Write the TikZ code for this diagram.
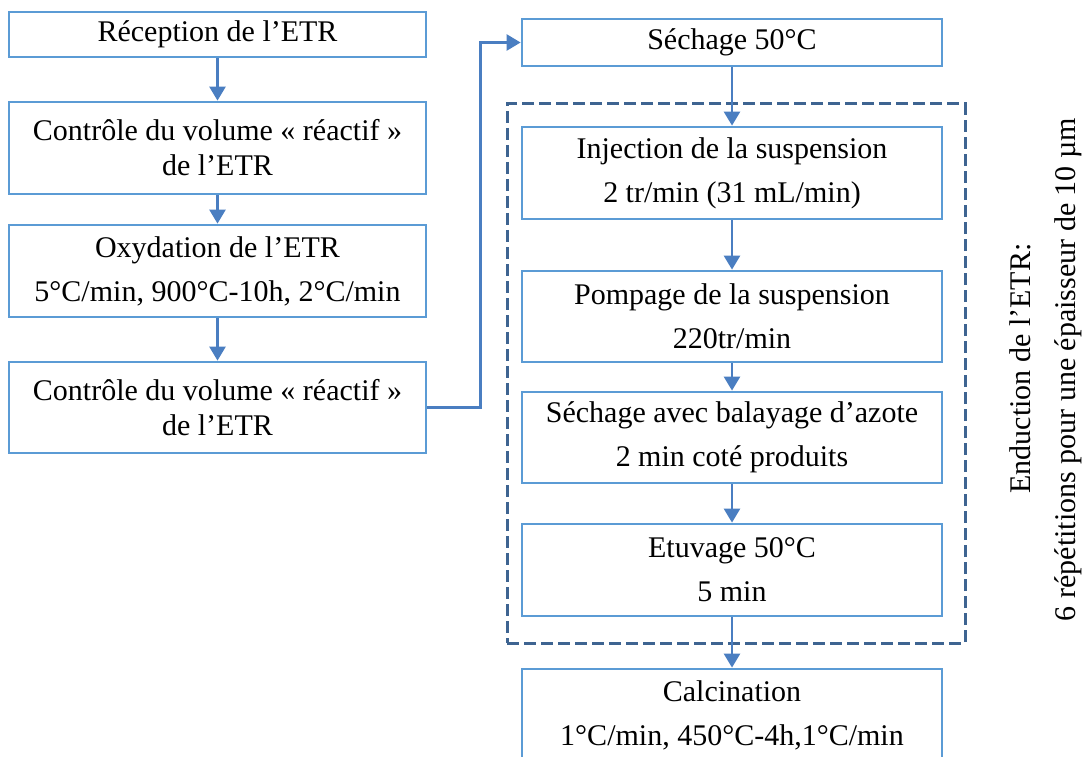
\documentclass[tikz,border=0pt]{standalone}
\usepackage{fontspec}
\setmainfont{Liberation Serif}
\usetikzlibrary{arrows.meta}
\definecolor{boxblue}{RGB}{91,155,213}
\definecolor{arrblue}{RGB}{74,126,193}
\definecolor{dashblue}{RGB}{62,100,145}
\begin{document}
\begin{tikzpicture}[x=1pt,y=-1pt,
  txt/.style={font=\fontsize{30}{35}\selectfont},
  lbox/.style={txt, draw=boxblue, line width=2.8pt, minimum width=417pt, inner sep=0pt, align=center},
  rbox/.style={lbox, minimum width=420pt},
  dashbox/.style={draw=dashblue, line width=3pt, dash pattern=on 12pt off 5pt, inner sep=0pt},
  arr/.style={draw=arrblue, line width=2.6pt, -{Triangle[length=14pt,width=16pt]}}]
\useasboundingbox (0,0) rectangle (1082,757);
\clip (0,0) rectangle (1082,757);
% left column
\node[lbox, minimum height=45pt] (b1) at (217.5,34.5) {Réception de l’ETR};
\node[lbox, minimum height=92pt] (b2) at (217.5,148) {Contrôle du volume « réactif »\\de l’ETR};
\node[lbox, minimum height=92pt] (b3) at (217.5,271) {Oxydation de l’ETR\\[9pt]5°C/min, 900°C-10h, 2°C/min};
\node[lbox, minimum height=91pt] (b4) at (217.5,407.5) {Contrôle du volume « réactif »\\de l’ETR};
% right column
\node[rbox, minimum height=47pt] (s1) at (732,42.5) {Séchage 50°C};
\node[dashbox, minimum width=458pt, minimum height=539pt] (grp) at (736,373.5) {};
\node[rbox, minimum height=92pt] (inj) at (732,173) {Injection de la suspension\\[9pt]2 tr/min (31 mL/min)};
\node[rbox, minimum height=91pt] (pomp) at (732,316.5) {Pompage de la suspension\\[9pt]220tr/min};
\node[rbox, minimum height=91pt] (sech) at (732,437.5) {Séchage avec balayage d’azote\\[9pt]2 min coté produits};
\node[rbox, minimum height=92pt] (etuv) at (732,570) {Etuvage 50°C\\[9pt]5 min};
\node[rbox, minimum height=92pt] (calc) at (732,715) {Calcination\\[9pt]1°C/min, 450°C-4h,1°C/min};
% rotated labels
\node[txt, rotate=90, inner sep=0pt] (t1) at (1020,368.5) {Enduction de l’ETR:};
\node[txt, rotate=90, inner sep=0pt] (t2) at (1068,369.5) {6 répétitions pour une épaisseur de 10 µm};
% connectors
\draw[arr] (b1) -- (b2);
\draw[arr] (b2) -- (b3);
\draw[arr] (b3) -- (b4);
\draw[arr] (b4.east) -- ++(53,0) |- (s1.west);
\draw[arr] (s1) -- (inj);
\draw[arr] (inj) -- (pomp);
\draw[arr] (pomp) -- (sech);
\draw[arr] (sech) -- (etuv);
\draw[arr] (etuv) -- (calc);
\end{tikzpicture}
\end{document}
